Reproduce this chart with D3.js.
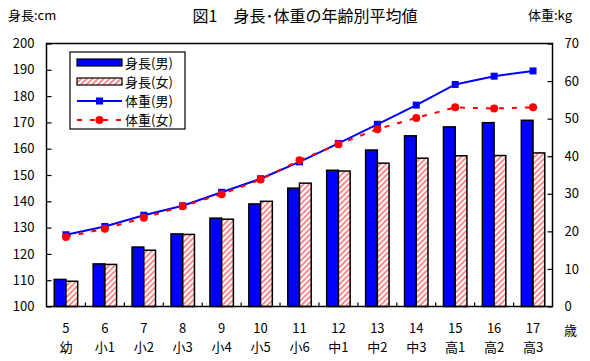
<!DOCTYPE html>
<html>
<head>
<meta charset="utf-8">
<script src="https://cdn.jsdelivr.net/npm/d3@7"></script>
<style>
  body { margin: 0; background: #fff; }
  svg text { font-family: "Noto Sans CJK JP", sans-serif; fill: #000; }
</style>
</head>
<body>
<div id="chart"></div>
<script>
const ages = ["5", "6", "7", "8", "9", "10", "11", "12", "13", "14", "15", "16", "17"];
const grades = ["幼", "小1", "小2", "小3", "小4", "小5", "小6", "中1", "中2", "中3", "高1", "高2", "高3"];
const heightMale = [110.3, 116.2, 122.6, 127.6, 133.6, 139.0, 145.0, 151.8, 159.5, 164.9, 168.3, 169.9, 170.8];
const heightFemale = [109.6, 116.0, 121.4, 127.4, 133.2, 140.0, 146.9, 151.5, 154.5, 156.4, 157.3, 157.4, 158.4];
const weightMale = [19.1, 21.3, 24.3, 26.8, 30.4, 34.0, 38.5, 43.4, 48.5, 53.6, 59.1, 61.3, 62.7];
const weightFemale = [18.5, 20.7, 23.6, 26.7, 29.9, 33.8, 38.9, 43.2, 47.2, 50.2, 53.0, 52.7, 53.0];
const heightTicks = d3.range(100, 201, 10);
const weightTicks = d3.range(0, 71, 10);

const W = 590, H = 361;
const plotL = 46.5, plotR = 552.5, plotT = 43.5, plotB = 306.5;

const svg = d3.select("#chart").append("svg")
    .attr("width", W).attr("height", H);

// stripe pattern for female bars
const defs = svg.append("defs");
const pat = defs.append("pattern")
    .attr("id", "stripe")
    .attr("patternUnits", "userSpaceOnUse")
    .attr("width", 4).attr("height", 4)
    .attr("patternTransform", "rotate(45)");
pat.append("rect").attr("width", 4).attr("height", 4).attr("fill", "#fff");
pat.append("rect").attr("width", 2).attr("height", 4).attr("fill", "#ff8c8c");

const x = d3.scaleBand().domain(ages).range([plotL, plotR]);
const xSub = d3.scaleBand().domain(["m", "f"]).range([0, x.bandwidth()]).paddingOuter(0.66);
const yH = d3.scaleLinear().domain([100, 200]).range([plotB, plotT]);
const yW = d3.scaleLinear().domain([0, 70]).range([plotB, plotT]);

// bars
const g = svg.append("g");
g.selectAll(".bm").data(ages).enter().append("rect")
    .attr("x", (d) => x(d) + xSub("m"))
    .attr("y", (d, i) => yH(heightMale[i]))
    .attr("width", xSub.bandwidth())
    .attr("height", (d, i) => yH(100) - yH(heightMale[i]))
    .attr("fill", "#0000ff")
    .attr("stroke", "#000").attr("stroke-width", 1.5);
g.selectAll(".bf").data(ages).enter().append("rect")
    .attr("x", (d) => x(d) + xSub("f"))
    .attr("y", (d, i) => yH(heightFemale[i]))
    .attr("width", xSub.bandwidth())
    .attr("height", (d, i) => yH(100) - yH(heightFemale[i]))
    .attr("fill", "url(#stripe)")
    .attr("stroke", "#000").attr("stroke-width", 1.5);

// frame
svg.append("rect")
    .attr("x", plotL).attr("y", plotT)
    .attr("width", plotR - plotL).attr("height", plotB - plotT)
    .attr("fill", "none").attr("stroke", "#000").attr("stroke-width", 1.5);

// axes
const axL = svg.append("g").attr("transform", `translate(${plotL},0)`)
    .call(d3.axisLeft(yH).tickValues(heightTicks).tickSize(-5).tickPadding(12));
const axR = svg.append("g").attr("transform", `translate(${plotR},0)`)
    .call(d3.axisRight(yW).tickValues(weightTicks).tickSize(-5).tickPadding(12));
[axL, axR].forEach(function(a) {
    a.select(".domain").remove();
    a.selectAll("line").attr("stroke", "#000").attr("stroke-width", 1.2);
    a.selectAll("text").style("font-size", "13px");
});

// x boundary ticks
svg.selectAll(".xt").data(ages.slice(0, -1)).enter().append("line")
    .attr("x1", (d) => x(d) + x.bandwidth()).attr("x2", (d) => x(d) + x.bandwidth())
    .attr("y1", plotB).attr("y2", plotB - 4)
    .attr("stroke", "#000").attr("stroke-width", 1.2);

// x labels
const xl = svg.selectAll(".xl").data(ages).enter().append("text")
    .attr("text-anchor", "middle")
    .style("font-size", "13px");
xl.append("tspan").attr("x", (d) => x(d) + x.bandwidth() / 2).attr("y", 333).text((d) => d);
xl.append("tspan").attr("x", (d) => x(d) + x.bandwidth() / 2).attr("y", 352).text((d, i) => grades[i]);
svg.append("text").attr("x", 564).attr("y", 335).style("font-size", "13px").text("歳");

// lines
const lineM = d3.line().x((d, i) => x(ages[i]) + x.bandwidth() / 2).y((d) => yW(d));
svg.append("path").datum(weightMale)
    .attr("d", lineM).attr("fill", "none")
    .attr("stroke", "#0000ff").attr("stroke-width", 2);
svg.append("path").datum(weightFemale)
    .attr("d", lineM).attr("fill", "none")
    .attr("stroke", "#ff0000").attr("stroke-width", 2)
    .attr("stroke-dasharray", "5,8");
svg.selectAll(".mm").data(weightMale).enter().append("rect")
    .attr("x", (d, i) => x(ages[i]) + x.bandwidth() / 2 - 3.5)
    .attr("y", (d) => yW(d) - 3.5)
    .attr("width", 7).attr("height", 7)
    .attr("fill", "#0000ff");
svg.selectAll(".mf").data(weightFemale).enter().append("circle")
    .attr("cx", (d, i) => x(ages[i]) + x.bandwidth() / 2)
    .attr("cy", (d) => yW(d))
    .attr("r", 4)
    .attr("fill", "#ff0000");

// titles
svg.append("text").attr("x", 8).attr("y", 20).style("font-size", "13px").text("身長:cm");
svg.append("text").attr("x", 305).attr("y", 22).attr("text-anchor", "middle")
    .style("font-size", "16px").text("図1　身長･体重の年齢別平均値");
svg.append("text").attr("x", 528).attr("y", 20).style("font-size", "13px").text("体重:kg");

// legend
const lg = svg.append("g");
lg.append("rect").attr("x", 70).attr("y", 52).attr("width", 115).attr("height", 77)
    .attr("fill", "#fff").attr("stroke", "#000").attr("stroke-width", 1.2);
const rows = [62.5, 81.5, 101, 120];
const names = ["身長(男)", "身長(女)", "体重(男)", "体重(女)"];
lg.append("rect").attr("x", 77).attr("y", rows[0] - 3.5).attr("width", 45).attr("height", 7)
    .attr("fill", "#0000ff").attr("stroke", "#000").attr("stroke-width", 1.2);
lg.append("rect").attr("x", 77).attr("y", rows[1] - 3.5).attr("width", 45).attr("height", 7)
    .attr("fill", "url(#stripe)").attr("stroke", "#000").attr("stroke-width", 1.2);
lg.append("line").attr("x1", 77).attr("x2", 122).attr("y1", rows[2]).attr("y2", rows[2])
    .attr("stroke", "#0000ff").attr("stroke-width", 2);
lg.append("rect").attr("x", 96).attr("y", rows[2] - 3.5).attr("width", 7).attr("height", 7)
    .attr("fill", "#0000ff");
lg.append("line").attr("x1", 77).attr("x2", 122).attr("y1", rows[3]).attr("y2", rows[3])
    .attr("stroke", "#ff0000").attr("stroke-width", 2).attr("stroke-dasharray", "5,8");
lg.append("circle").attr("cx", 99.5).attr("cy", rows[3]).attr("r", 4).attr("fill", "#ff0000");
lg.selectAll(".lt").data(names).enter().append("text")
    .attr("x", 125).attr("y", (d, i) => rows[i] + 5)
    .style("font-size", "13px").text((d) => d);
</script>
</body>
</html>
